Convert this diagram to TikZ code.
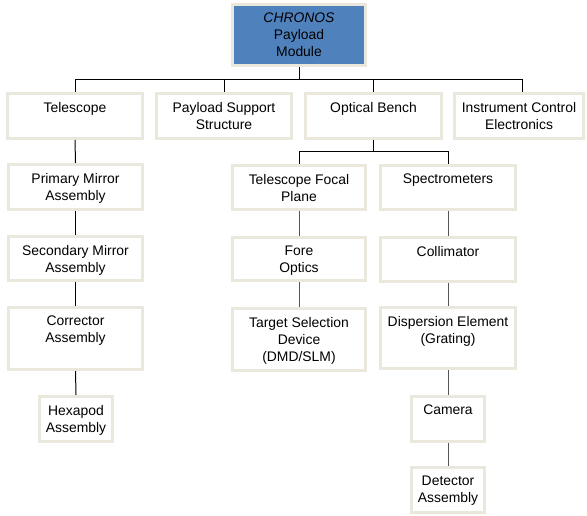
\documentclass[tikz,border=0pt]{standalone}
\usepackage{fontspec}
\setmainfont{Liberation Sans}
\definecolor{bord}{HTML}{EAE8DC}
\definecolor{topblue}{HTML}{4F81BD}
\definecolor{lgray}{HTML}{555555}
\tikzset{
  box/.style={draw=bord, line width=3pt, fill=white, inner sep=0pt},
  txt/.style={align=center, inner sep=0pt, font=\fontsize{13.9}{17}\selectfont},
  conn/.style={line width=1pt, draw=black},
  conng/.style={line width=1pt, draw=lgray},
}
\newcommand\bx[7][white]{%
  \node[box, fill=#1, minimum width={(#5-#3)*1pt-3pt}, minimum height={(#6-#4)*1pt-3pt}]
    (#2) at ({(#3+#5)/2},{(#4+#6)/2}) {};
  \node[txt, anchor=north] (#2t) at ([yshift=-10pt]#2.north) {#7};
}
\begin{document}
\begin{tikzpicture}[x=1pt,y=-1pt]
\useasboundingbox (0,0) rectangle (587,516);
% boxes
\bx[topblue]{top}{231}{3}{367}{67}{\textit{CHRONOS}\\Payload\\Module}
\bx{tel}{6}{92}{144}{140}{Telescope}
\bx{pss}{155}{92}{293}{140}{Payload Support\\Structure}
\bx{ob}{304}{92}{443}{140}{Optical Bench}
\bx{ice}{453}{92}{585}{140}{Instrument Control\\Electronics}
\bx{pma}{7}{163}{144}{211}{Primary Mirror\\Assembly}
\bx{sma}{7}{235}{144}{282}{Secondary Mirror\\Assembly}
\bx{cor}{7}{306}{144}{371}{Corrector\\Assembly}
\bx{hex}{38}{395}{114}{443}{Hexapod\\Assembly}
\bx{tfp}{231}{164}{367}{211}{Telescope Focal\\Plane}
\bx{fo}{231}{236}{367}{282}{Fore\\Optics}
\bx{tsd}{231}{307}{367}{372}{Target Selection\\Device\\(DMD/SLM)}
\bx{spec}{379}{164}{517}{211}{Spectrometers}
\bx{col}{379}{236}{517}{283}{Collimator}
\bx{dis}{379}{306}{517}{370}{Dispersion Element\\(Grating)}
\bx{cam}{410}{395}{486}{443}{Camera}
\bx{det}{410}{466}{486}{514}{Detector\\Assembly}
% connectors
\coordinate (bus) at (0,80);
\coordinate (bus2) at (0,152);
\draw[conn] (top.south) -- (top.south |- bus);
\draw[conn] (tel.north) -- (tel.north |- bus) -- ([xshift=3.5pt]ice.north |- bus) -- ([xshift=3.5pt]ice.north);
\draw[conn] (pss.north) -- (pss.north |- bus);
\draw[conn] (ob.north) -- (ob.north |- bus);
\draw[conn] (tel.south) -- (pma.north);
\draw[conn] (pma.south) -- (sma.north);
\draw[conn] (sma.south) -- (cor.north);
\draw[conn] (cor.south) -- (hex.north);
\draw[conn] (ob.south) -- (ob.south |- bus2);
\draw[conn] (tfp.north) -- (tfp.north |- bus2) -- (spec.north |- bus2) -- (spec.north);
\draw[conng] (tfp.south) -- (fo.north);
\draw[conng] (fo.south) -- (tsd.north);
\draw[conng] (spec.south) -- (col.north);
\draw[conng] (col.south) -- (dis.north);
\draw[conng] (dis.south) -- (cam.north);
\draw[conng] (cam.south) -- (det.north);
\end{tikzpicture}
\end{document}
